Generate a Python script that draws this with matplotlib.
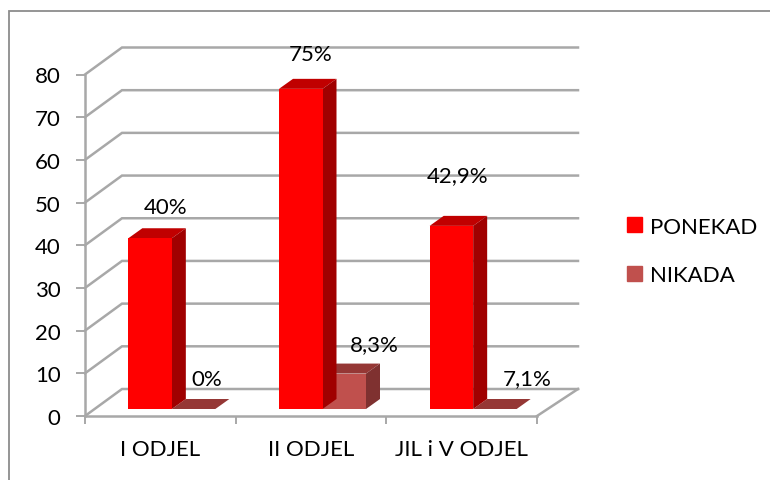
import matplotlib
matplotlib.use("Agg")
import matplotlib.pyplot as plt
from matplotlib.lines import Line2D
from matplotlib.patches import Polygon, Rectangle

categories = ["I ODJEL", "II ODJEL", "JIL i V ODJEL"]
ponekad = [40, 75, 42.9]
nikada = [0, 8.3, 0]                       # the third bar is drawn flat despite its 7,1% label
ponekad_labels = ["40%", "75%", "42,9%"]
nikada_labels = ["0%", "8,3%", "7,1%"]
y_ticks = list(range(0, 90, 10))

W, H = 770, 481
RED = ("#FF0000", "#C00000", "#A00000")        # front, top, side
ROSE = ("#C0504D", "#953735", "#7F3130")
GRID = "#a8a8a8"
FS = 16

plt.rcParams["font.family"] = ["Lato", "DejaVu Sans"]
fig = plt.figure(figsize=(W / 100, H / 100), dpi=100)
# axes box = front plane of the fake 3D chart, in pixels
L, R, T, B = 85, 537, 75.5, 417
ax = fig.add_axes([L / W, 1 - B / H, (R - L) / W, (B - T) / H])
ax.set_xlim(0, 3)
ax.set_ylim(0, 80)
ax.patch.set_visible(False)
for s in ("top", "right"):
    ax.spines[s].set_visible(False)
for s in ("left", "bottom"):
    ax.spines[s].set_color(GRID)
    ax.spines[s].set_linewidth(1.8)

px_x = 3 / (R - L)
px_y = 80 / (B - T)
# depth of the chart floor and of a bar
floor_dx, floor_dy = 37 * px_x, 27 * px_y
back_right = 3 + 41 * px_x                 # back wall reaches a bit further on the right
bar_dx, bar_dy = 14 * px_x, 10 * px_y
bar_w = 43.5 * px_x
inset_x, inset_y = 11.5 * px_x, 7 * px_y


def poly(pts, color, z=3):
    ax.add_patch(Polygon(pts, closed=True, facecolor=color, edgecolor="none",
                         clip_on=False, zorder=z))


# back wall grid and left wall slants
for v in y_ticks:
    ax.plot([0, floor_dx, back_right], [v, v + floor_dy, v + floor_dy], color=GRID,
            lw=1.8, clip_on=False, zorder=1, solid_joinstyle="miter")
# floor right edge
ax.plot([3, back_right], [0, floor_dy], color=GRID, lw=1.8, clip_on=False, zorder=1)


def bar3d(x0, val, cols, z):
    y0 = inset_y
    x1 = x0 + bar_w
    y1 = y0 + val
    poly([(x0, y1), (x1, y1), (x1 + bar_dx, y1 + bar_dy), (x0 + bar_dx, y1 + bar_dy)], cols[1], z)
    poly([(x1, y0), (x1 + bar_dx, y0 + bar_dy), (x1 + bar_dx, y1 + bar_dy), (x1, y1)], cols[2], z)
    poly([(x0, y0), (x1, y0), (x1, y1), (x0, y1)], cols[0], z + 0.5)


for i in range(len(categories)):
    x0 = i + (1 - 2 * bar_w) / 2 + inset_x
    bar3d(x0 + bar_w, nikada[i], ROSE, 3)
    bar3d(x0, ponekad[i], RED, 4)

# hand-placed value labels, centre in pixels
label_px = [((166, 208), (207, 380)), ((311, 55), (374, 345)), ((458, 176), (527, 379))]
for i in range(len(categories)):
    for (lx, ly), txt in zip(label_px[i], (ponekad_labels[i], nikada_labels[i])):
        ax.text((lx - L) * px_x, (B - ly) * px_y, txt, ha="center", va="center",
                fontsize=FS, color="black", zorder=6, clip_on=False)

ax.set_yticks(y_ticks)
ax.set_xticks(range(4))
ax.set_xticklabels([])
ax.set_xticks([0.5, 1.5, 2.5], minor=True)
ax.set_xticklabels(categories, minor=True)
ax.tick_params(axis="x", which="minor", length=0, labelsize=FS, pad=16.5)
ax.tick_params(axis="x", which="major", length=5.5, color=GRID, width=1.4)
ax.tick_params(axis="y", length=6.5, color=GRID, width=1.4, labelsize=FS, pad=11)

# legend
handles = [Rectangle((0, 0), 1, 1, color=RED[0]), Rectangle((0, 0), 1, 1, color=ROSE[0])]
fig.legend(handles, ["PONEKAD", "NIKADA"], loc="center left", bbox_to_anchor=(627 / W, 1 - 252 / H),
           frameon=False, fontsize=FS, handlelength=0.68, handleheight=0.68, handletextpad=0.36,
           labelspacing=1.3, borderpad=0, borderaxespad=0)

# outer chart border: only top and left show in the crop
fig.add_artist(Line2D([8.5 / W, 8.5 / W, 1], [0, 1 - 12 / H, 1 - 12 / H], transform=fig.transFigure,
                      color="#8c8c8c", lw=1.3, solid_joinstyle="miter"))

fig.savefig("out.png", dpi=100)
